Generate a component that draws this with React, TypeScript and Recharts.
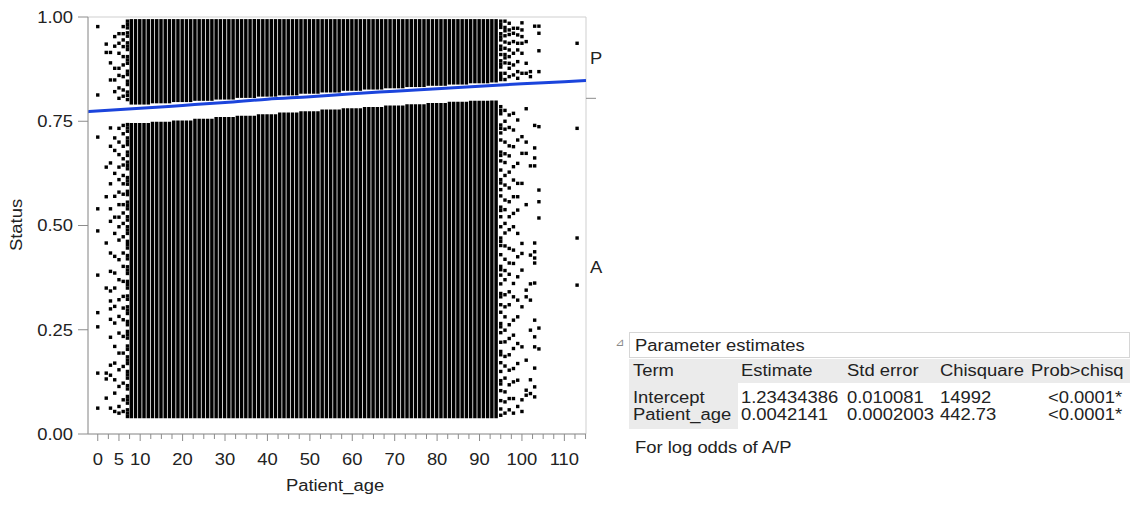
import { ComposedChart, Bar, Scatter, Line, XAxis, YAxis, ReferenceArea } from 'recharts'

const FONT = '"Liberation Sans", Arial, Helvetica, sans-serif'
const SX = 1.15
const INK = '#222'
const COL_W = 3.45

// axes
const X_DOMAIN: [number, number] = [-2.3, 115.1]
const X_TICKS = [
  0, 2.5, 5, 7.5, 10, 12.5, 15, 17.5, 20, 22.5, 25, 27.5, 30, 32.5, 35, 37.5, 40, 42.5, 45, 47.5, 50, 52.5,
  55, 57.5, 60, 62.5, 65, 67.5, 70, 72.5, 75, 77.5, 80, 82.5, 85, 87.5, 90, 92.5, 95, 97.5, 100, 102.5, 105,
  107.5, 110, 112.5, 115,
]
const X_LABELS = [0, 5, 10, 20, 30, 40, 50, 60, 70, 80, 90, 100, 110]
const Y_TICKS = [0, 0.25, 0.5, 0.75, 1]
const SPLIT = 0.805
const P_MID = 0.9
const A_MID = 0.4

// dense jittered columns (one per age)
const DENSE_AGES = [
  8, 9, 10, 11, 12, 13, 14, 15, 16, 17, 18, 19, 20, 21, 22, 23, 24, 25, 26, 27, 28, 29, 30, 31, 32, 33, 34,
  35, 36, 37, 38, 39, 40, 41, 42, 43, 44, 45, 46, 47, 48, 49, 50, 51, 52, 53, 54, 55, 56, 57, 58, 59, 60, 61,
  62, 63, 64, 65, 66, 67, 68, 69, 70, 71, 72, 73, 74, 75, 76, 77, 78, 79, 80, 81, 82, 83, 84, 85, 86, 87, 88,
  89, 90, 91, 92, 93, 94,
]
const A_TOP = [
  0.746, 0.746, 0.746, 0.746, 0.746, 0.749, 0.749, 0.749, 0.749, 0.749,
  0.752, 0.752, 0.752, 0.752, 0.752, 0.756, 0.756, 0.756, 0.756, 0.756,
  0.76, 0.76, 0.76, 0.76, 0.76, 0.763, 0.763, 0.763, 0.763, 0.763,
  0.767, 0.767, 0.767, 0.767, 0.767, 0.771, 0.771, 0.771, 0.771, 0.771,
  0.774, 0.774, 0.774, 0.774, 0.774, 0.778, 0.778, 0.778, 0.778, 0.778,
  0.781, 0.781, 0.781, 0.781, 0.781, 0.784, 0.784, 0.784, 0.784, 0.784,
  0.788, 0.788, 0.788, 0.788, 0.788, 0.791, 0.791, 0.791, 0.791, 0.791,
  0.794, 0.794, 0.794, 0.794, 0.794, 0.797, 0.797, 0.797, 0.797, 0.797,
  0.799, 0.799, 0.799, 0.799, 0.799,
  0.8, 0.8,
]
const P_BOTTOM = [
  0.79, 0.79, 0.79, 0.79, 0.79, 0.793, 0.793, 0.793, 0.793, 0.793,
  0.796, 0.796, 0.796, 0.796, 0.796, 0.799, 0.799, 0.799, 0.799, 0.799,
  0.802, 0.802, 0.802, 0.802, 0.802, 0.806, 0.806, 0.806, 0.806, 0.806,
  0.809, 0.809, 0.809, 0.809, 0.809, 0.812, 0.812, 0.812, 0.812, 0.812,
  0.816, 0.816, 0.816, 0.816, 0.816, 0.819, 0.819, 0.819, 0.819, 0.819,
  0.823, 0.823, 0.823, 0.823, 0.823, 0.826, 0.826, 0.826, 0.826, 0.826,
  0.829, 0.829, 0.829, 0.829, 0.829, 0.832, 0.832, 0.832, 0.832, 0.832,
  0.835, 0.835, 0.835, 0.835, 0.835, 0.838, 0.838, 0.838, 0.838, 0.838,
  0.841, 0.841, 0.841, 0.841, 0.841,
  0.843, 0.843,
]
const A_FLOOR = 0.038
const P_CEIL = 0.995

// sparse points at the age extremes: [age, values]
const LEFT_P_DOTS: [number, number[]][] = [
  [0, [0.977, 0.813]],
  [2, [0.935, 0.915]],
  [3, [0.915, 0.89, 0.849]],
  [4, [0.953, 0.93, 0.877, 0.849, 0.821]],
  [5, [0.96, 0.937, 0.913, 0.877, 0.86, 0.83, 0.805]],
  [6, [0.977, 0.96, 0.945, 0.929, 0.905, 0.885, 0.857, 0.825, 0.81]],
  [7, [0.99, 0.982, 0.974, 0.962, 0.954, 0.938, 0.93, 0.922, 0.905, 0.897, 0.889, 0.87, 0.862, 0.846, 0.838, 0.82, 0.812, 0.802]],
]
const LEFT_A_DOTS: [number, number[]][] = [
  [0, [0.712, 0.54, 0.487, 0.381, 0.291, 0.257, 0.146, 0.062]],
  [2, [0.64, 0.569, 0.458, 0.35, 0.146, 0.132, 0.086]],
  [3, [0.734, 0.69, 0.65, 0.6, 0.54, 0.51, 0.434, 0.39, 0.343, 0.319, 0.3, 0.275, 0.232, 0.165, 0.141, 0.062]],
  [4, [0.71, 0.68, 0.625, 0.57, 0.52, 0.481, 0.426, 0.386, 0.35, 0.306, 0.266, 0.21, 0.17, 0.13, 0.098, 0.054]],
  [5, [0.733, 0.7, 0.67, 0.64, 0.61, 0.58, 0.55, 0.52, 0.497, 0.465, 0.418, 0.37, 0.322, 0.282, 0.242, 0.194, 0.154, 0.114, 0.066, 0.05]],
  [6, [0.74, 0.72, 0.69, 0.66, 0.645, 0.62, 0.6, 0.575, 0.55, 0.53, 0.505, 0.473, 0.434, 0.402, 0.366, 0.33, 0.302, 0.274, 0.234, 0.194, 0.162, 0.122, 0.082, 0.054]],
  [7, [
    0.742, 0.734, 0.726, 0.71, 0.702, 0.694, 0.676, 0.668, 0.652, 0.644, 0.636, 0.615, 0.607, 0.599, 0.582, 0.574,
    0.556, 0.548, 0.54, 0.521, 0.513, 0.497, 0.489, 0.481, 0.462, 0.454, 0.446, 0.428, 0.42, 0.401, 0.393, 0.385,
    0.366, 0.358, 0.35, 0.331, 0.323, 0.305, 0.297, 0.289, 0.27, 0.262, 0.246, 0.238, 0.23, 0.211, 0.203, 0.185,
    0.177, 0.169, 0.15, 0.142, 0.134, 0.116, 0.108, 0.09, 0.082, 0.074, 0.058, 0.05, 0.042,
  ]],
]
const RIGHT_P_DOTS: [number, number[]][] = [
  [95, [0.99, 0.982, 0.975, 0.96, 0.952, 0.945, 0.93, 0.922, 0.91, 0.895, 0.887, 0.88, 0.865, 0.857, 0.85]],
  [96, [0.99, 0.975, 0.967, 0.955, 0.94, 0.925, 0.91, 0.902, 0.89, 0.865, 0.85]],
  [97, [0.985, 0.969, 0.958, 0.937, 0.921, 0.905, 0.889, 0.877, 0.857]],
  [98, [0.973, 0.961, 0.941, 0.913, 0.885, 0.861]],
  [99, [0.973, 0.957, 0.937, 0.921, 0.893, 0.869, 0.853]],
  [100, [0.986, 0.969, 0.953, 0.937, 0.913, 0.865]],
  [101, [0.941, 0.889, 0.865]],
  [102, [0.869, 0.857]],
  [103, [0.978]],
  [104, [0.978, 0.961, 0.919, 0.869]],
  [113, [0.937]],
]
const RIGHT_A_DOTS: [number, number[]][] = [
  [95, [0.785, 0.776, 0.768, 0.741, 0.733, 0.722, 0.705, 0.676, 0.668, 0.655, 0.633, 0.61, 0.602, 0.586, 0.571, 0.544, 0.536, 0.521, 0.497, 0.47, 0.462, 0.452, 0.43, 0.402, 0.394, 0.381, 0.36, 0.337, 0.329, 0.31, 0.292, 0.265, 0.257, 0.243, 0.22, 0.198, 0.19, 0.171, 0.15, 0.128, 0.12, 0.104, 0.08, 0.06, 0.045]],
  [96, [0.776, 0.75, 0.731, 0.7, 0.672, 0.651, 0.62, 0.597, 0.561, 0.538, 0.505, 0.482, 0.451, 0.419, 0.392, 0.37, 0.334, 0.305, 0.281, 0.249, 0.221, 0.186, 0.163, 0.134, 0.101, 0.077, 0.05]],
  [97, [0.765, 0.735, 0.691, 0.667, 0.628, 0.59, 0.557, 0.521, 0.49, 0.445, 0.41, 0.383, 0.341, 0.31, 0.262, 0.229, 0.19, 0.153, 0.118, 0.085, 0.058]],
  [98, [0.769, 0.729, 0.689, 0.641, 0.609, 0.569, 0.529, 0.497, 0.441, 0.409, 0.361, 0.329, 0.273, 0.237, 0.205, 0.157, 0.125, 0.085, 0.05]],
  [99, [0.753, 0.705, 0.649, 0.601, 0.569, 0.537, 0.481, 0.425, 0.377, 0.321, 0.281, 0.217, 0.169, 0.129, 0.066]],
  [100, [0.713, 0.673, 0.601, 0.457, 0.433, 0.393, 0.305, 0.209, 0.082, 0.054]],
  [101, [0.78, 0.7, 0.673, 0.55, 0.345, 0.329, 0.177, 0.105, 0.093]],
  [102, [0.643, 0.429, 0.36, 0.321, 0.249, 0.13, 0.097]],
  [103, [0.74, 0.686, 0.662, 0.643, 0.458, 0.437, 0.422, 0.41, 0.362, 0.273, 0.233, 0.209, 0.158, 0.113, 0.089]],
  [104, [0.737, 0.585, 0.557, 0.518, 0.254, 0.204]],
  [113, [0.733, 0.47, 0.357]],
]

// fitted logistic curve
const CURVE_AGES = [-2.3, 10, 20, 30, 40, 50, 60, 70, 80, 90, 100, 110, 115.1]
const CURVE_PROB = [0.773, 0.781, 0.788, 0.795, 0.803, 0.809, 0.816, 0.822, 0.828, 0.834, 0.84, 0.845, 0.848]

// parameter estimates table
const TABLE_HEAD = ['Term', 'Estimate', 'Std error', 'Chisquare', 'Prob>chisq']
const TERMS = ['Intercept', 'Patient_age']
const ESTIMATES = ['1.23434386', '0.0042141']
const STD_ERRORS = ['0.010081', '0.0002003']
const CHISQUARES = ['14992', '442.73']
const PROBS = ['<0.0001*', '<0.0001*']

const HEAD_X = [633, 741, 847, 940, 1031]
const CELL_X = [633, 741, 847, 940, 1048]
const ROW_Y = [398, 415]

const txt = (x: number, y: number, anchor: string, s: string, size = 16) => (
  <text
    transform={`translate(${x},${y}) scale(${SX},1)`}
    textAnchor={anchor}
    dy="0.36em"
    fontSize={size}
    fill={INK}
    fontFamily={FONT}
  >
    {s}
  </text>
)

const XTick = (props: any) => {
  const { x, y, payload } = props
  const labeled = X_LABELS.includes(payload.value)
  return (
    <g>
      <line x1={x} x2={x} y1={y} y2={y + (labeled ? 7 : 5)} stroke="#8c8c8c" />
      {labeled && txt(x, y + 25, 'middle', String(payload.value))}
    </g>
  )
}

const YTick = (props: any) => {
  const { x, y, payload } = props
  return (
    <g>
      <line x1={x - 10} x2={x} y1={y} y2={y} stroke="#8c8c8c" />
      {txt(x - 15, y, 'end', Number(payload.value).toFixed(2))}
    </g>
  )
}

const RightTick = (props: any) => {
  const { x, y, payload } = props
  if (payload.value === SPLIT) return <line x1={x} x2={x + 10} y1={y} y2={y} stroke="#8c8c8c" />
  return txt(x + 4, y, 'start', payload.value === P_MID ? 'P' : 'A')
}

const Dot = (props: any) => <rect x={props.cx - 1.7} y={props.cy - 1.7} width={3.4} height={3.4} fill="#000" />

const Abs = ({ x, y, children, style }: any) => (
  <div
    style={{
      position: 'absolute',
      left: x,
      top: y,
      transform: `translateY(-50%) scaleX(${SX})`,
      transformOrigin: 'left center',
      whiteSpace: 'nowrap',
      fontFamily: FONT,
      fontSize: 16,
      lineHeight: '18px',
      color: INK,
      ...style,
    }}
  >
    {children}
  </div>
)

export default function App() {
  const columns = DENSE_AGES.map((age, i) => ({
    age,
    floor: A_FLOOR,
    aSpan: A_TOP[i] - A_FLOOR,
    gap: P_BOTTOM[i] - A_TOP[i],
    pSpan: P_CEIL - P_BOTTOM[i],
  }))
  const dots = [...LEFT_P_DOTS, ...LEFT_A_DOTS, ...RIGHT_P_DOTS, ...RIGHT_A_DOTS].flatMap(([age, vals]) =>
    vals.map((v) => ({ age, v }))
  )
  const curve = CURVE_AGES.map((age, i) => ({ age, p: CURVE_PROB[i] }))
  const rows = TERMS.map((t, i) => [t, ESTIMATES[i], STD_ERRORS[i], CHISQUARES[i], PROBS[i]])

  return (
    <div style={{ position: 'absolute', left: 0, top: 0, width: 1132, height: 505, background: '#fff' }}>
      <div style={{ position: 'absolute', left: 0, top: 0 }}>
        <ComposedChart
          width={620}
          height={505}
          data={columns}
          margin={{ top: 17, right: 20, bottom: 0, left: 0 }}
        >
          <ReferenceArea x1={X_DOMAIN[0]} x2={X_DOMAIN[1]} y1={0} y2={1} fill="none" stroke="#cfcfcf" />
          <XAxis
            dataKey="age"
            type="number"
            domain={X_DOMAIN}
            allowDataOverflow
            ticks={X_TICKS}
            interval={0}
            height={71}
            tickSize={0}
            tickMargin={0}
            tickLine={false}
            axisLine={{ stroke: '#9a9a9a' }}
            tick={<XTick />}
          />
          <YAxis
            type="number"
            domain={[0, 1]}
            allowDataOverflow
            ticks={Y_TICKS}
            interval={0}
            width={88}
            tickSize={0}
            tickMargin={0}
            tickLine={false}
            axisLine={{ stroke: '#9a9a9a' }}
            tick={<YTick />}
          />
          <YAxis
            yAxisId="r"
            orientation="right"
            type="number"
            domain={[0, 1]}
            allowDataOverflow
            ticks={[A_MID, SPLIT, P_MID]}
            interval={0}
            width={14}
            tickSize={0}
            tickMargin={0}
            tickLine={false}
            axisLine={false}
            tick={<RightTick />}
          />
          <Bar dataKey="floor" stackId="c" fill="none" barSize={COL_W} isAnimationActive={false} />
          <Bar dataKey="aSpan" stackId="c" fill="#000" barSize={COL_W} isAnimationActive={false} />
          <Bar dataKey="gap" stackId="c" fill="none" barSize={COL_W} isAnimationActive={false} />
          <Bar dataKey="pSpan" stackId="c" fill="#000" barSize={COL_W} isAnimationActive={false} />
          <Scatter data={dots} dataKey="v" shape={Dot} isAnimationActive={false} />
          <Line
            data={curve}
            dataKey="p"
            type="monotone"
            stroke="#1b44dc"
            strokeWidth={3}
            dot={false}
            activeDot={false}
            isAnimationActive={false}
          />
        </ComposedChart>
      </div>

      {/* axis titles */}
      <div
        style={{
          position: 'absolute',
          left: 17,
          top: 225,
          transform: `translate(-50%, -50%) rotate(-90deg) scaleX(${SX})`,
          fontFamily: FONT,
          fontSize: 16,
          color: INK,
          whiteSpace: 'nowrap',
        }}
      >
        Status
      </div>
      <div
        style={{
          position: 'absolute',
          left: 335,
          top: 486,
          transform: `translate(-50%, -50%) scaleX(${SX})`,
          fontFamily: FONT,
          fontSize: 16,
          color: INK,
          whiteSpace: 'nowrap',
        }}
      >
        Patient_age
      </div>

      {/* parameter estimates report */}
      <div style={{ position: 'absolute', left: 615, top: 336, fontSize: 11, color: '#888', fontFamily: 'DejaVu Sans' }}>⊿</div>
      <div
        style={{
          position: 'absolute',
          left: 629,
          top: 332,
          width: 499,
          height: 24,
          border: '1px solid #d6d6d6',
        }}
      />
      <div style={{ position: 'absolute', left: 629, top: 359, width: 501, height: 24, background: '#ebebeb' }} />
      <div style={{ position: 'absolute', left: 629, top: 383, width: 109, height: 46, background: '#ebebeb' }} />
      <Abs x={635} y={346}>Parameter estimates</Abs>
      {TABLE_HEAD.map((h, j) => (
        <Abs key={h} x={HEAD_X[j]} y={371}>
          {h}
        </Abs>
      ))}
      {rows.map((r, i) =>
        r.map((c, j) => (
          <Abs key={`${i}-${j}`} x={CELL_X[j]} y={ROW_Y[i]}>
            {c}
          </Abs>
        ))
      )}
      <Abs x={635} y={448}>For log odds of A/P</Abs>
    </div>
  )
}
